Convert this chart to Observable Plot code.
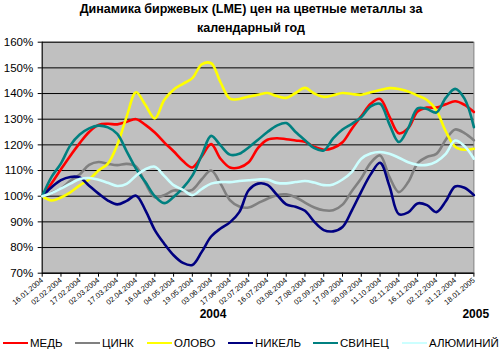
<!DOCTYPE html>
<html>
<head>
<meta charset="utf-8">
<script src="https://cdn.jsdelivr.net/npm/d3@7"></script>
<script src="https://cdn.jsdelivr.net/npm/@observablehq/plot@0.6"></script>
<style>
  body { margin: 0; background: #fff; font-family: "Liberation Sans", Arial, sans-serif; }
  #wrap { position: relative; width: 500px; height: 359px; overflow: hidden; }
  #title { height: 38px; text-align: center; font-weight: bold; font-size: 12.5px; line-height: 19px; color: #000; padding-left: 2px; }
  #legend { position: relative; height: 29px; }
  .item { position: absolute; top: 7px; display: flex; align-items: center; font-size: 11.5px; color: #000; white-space: nowrap; }
  .item .sw { width: 25px; height: 2px; margin-right: 2px; }
</style>
</head>
<body>
<div id="wrap">
  <div id="title">Динамика биржевых (LME) цен на цветные металлы за<br>календарный год</div>
  <div id="chart"></div>
  <div id="legend"></div>
</div>
<script>
// Category tick labels
const dateLabels = ["16.01.2004","02.02.2004","17.02.2004","02.03.2004","17.03.2004","02.04.2004","16.04.2004","04.05.2004","19.05.2004","03.06.2004","17.06.2004","02.07.2004","16.07.2004","03.08.2004","17.08.2004","02.09.2004","17.09.2004","30.09.2004","11.10.2004","02.11.2004","16.11.2004","02.12.2004","31.12.2004","18.01.2005"];
const yTicks = [70, 80, 90, 100, 110, 120, 130, 140, 150, 160];
const yearLabels = ["2004", "2005"];
const yearAt = [9.1, 23.1];

const seriesNames = ["МЕДЬ", "ЦИНК", "ОЛОВО", "НИКЕЛЬ", "СВИНЕЦ", "АЛЮМИНИЙ"];
const seriesColors = ["#ff0000", "#808080", "#ffff00", "#000080", "#008080", "#ccffff"];

// values (%), sampled every half category step
const copper = [100,105,110.5,115.8,120.7,125,127.8,128.2,128,129,130,127.8,124.8,121,117.5,113.7,111.2,115.5,120.3,114.6,111.2,111.2,113.2,118.8,122,122.6,122.2,121.7,121.2,119.2,118.1,118.8,121,126.3,131.2,136,137.9,131,124.5,126.5,133,134.5,134.5,135.8,137,135.6,132.8];
const zinc = [100,101.3,103,106,108.5,112.2,113.3,112.6,112.1,112.6,111.6,105,99.6,100.4,102.2,102,102.5,106.6,110,104.9,98.5,96,95.6,97.3,99,100.4,100.7,99.6,97.5,95.6,94.5,94.5,96.7,102,107,113,115.9,107.5,101.6,105.5,112.8,115.3,116.5,122,126,124.6,121.8];
const tin = [100,98.3,99.5,101.5,104.2,106.5,110,112.7,120,131,140.5,135.5,130.3,137.5,141.5,143.8,146,151.4,151.8,144.4,138,137.9,138.8,139.5,140.2,139,138.3,140.2,142.2,140,138.7,139.3,140.2,139.8,139.5,140.5,141.4,142.1,141.8,140.8,139.2,137.5,133.5,125.3,119.3,118.1,118.5];
const nickel = [100,103.5,106.3,107.5,107.3,104.1,101,98.3,96.8,98.2,100.2,94.5,86.8,81.5,77,74,73.2,78.3,84.3,87.4,89.8,93.8,102.3,104.9,104.4,100.6,96.8,95.9,94.3,90,86.8,86.3,88,94.5,101.8,108.5,113,104,93,93.7,97.2,96.5,93.8,98,103.8,103.3,100.4];
const lead = [100,107.5,112.8,119.8,124,126.4,127.5,126.8,124.3,117.5,110.7,105.5,100,97.3,99.7,103.2,108,116,123.5,119.8,116.2,116.5,119,122,125,127.5,128.5,125,121.8,118.7,117.8,122.5,126,128.2,130.8,135,136,128,121.1,126.5,134.2,134,132.6,138.3,141.8,138,126.9];
const aluminium = [100,101.2,103,104.9,106.7,107.1,106.4,105.2,104,104.8,108,110.5,111.5,107.9,104.3,102.5,100.4,102.8,104.9,105.5,105.5,105.9,106.2,106.5,106.5,105.2,105,105.5,105.9,105.3,104.3,104.6,106.5,109.5,114.6,116.6,117.2,116.5,115,113.2,112.2,112.2,113.5,116.5,121.7,119.5,114.6];

const allSeries = [copper, zinc, tin, nickel, lead, aluminium];
const rows = [];
allSeries.forEach((vals, s) => vals.forEach((v, i) => rows.push({t: i / 2, v, series: seriesNames[s]})));
const years = yearLabels.map((label, i) => ({label, at: yearAt[i]}));

const chart = Plot.plot({
  width: 500,
  height: 292,
  marginTop: 3.7,
  marginBottom: 57.3,
  marginLeft: 41.7,
  marginRight: 26.6,
  style: {fontFamily: "'Liberation Sans', Arial, sans-serif", overflow: "visible", background: "transparent"},
  x: {domain: [0, 23]},
  y: {domain: [70, 160]},
  color: {domain: seriesNames, range: seriesColors},
  marks: [
    Plot.frame({fill: "#c0c0c0", stroke: "#808080"}),
    Plot.ruleY(yTicks, {stroke: "#000", strokeWidth: 1}),
    Plot.ruleX([0], {stroke: "#000"}),
    Plot.ruleY([70], {stroke: "#000"}),
    Plot.axisY({ticks: yTicks, tickFormat: d => d + "%", tickSize: 4, tickPadding: 5, fontSize: 11.5, stroke: "#000", color: "#000", label: null}),
    Plot.axisX({ticks: d3.range(dateLabels.length), tickFormat: i => dateLabels[i], tickRotate: -40, tickSize: 4, tickPadding: 2, fontSize: 7.5, stroke: "#000", color: "#000", label: null}),
    Plot.line(rows, {x: "t", y: "v", z: "series", stroke: "series", strokeWidth: 2.6, curve: "catmull-rom"}),
    Plot.text(years, {x: "at", text: "label", frameAnchor: "bottom", dy: 45, fontWeight: "bold", fontSize: 12, fill: "#000"})
  ]
});
document.getElementById("chart").appendChild(chart);

// legend
const legendLeft = [3, 75, 147, 228, 313, 402];
const legend = document.getElementById("legend");
seriesNames.forEach((name, i) => {
  const item = document.createElement("div");
  item.className = "item";
  item.style.left = legendLeft[i] + "px";
  item.innerHTML = `<span class="sw" style="background:${seriesColors[i]}"></span><span>${name}</span>`;
  legend.appendChild(item);
});
</script>
</body>
</html>
